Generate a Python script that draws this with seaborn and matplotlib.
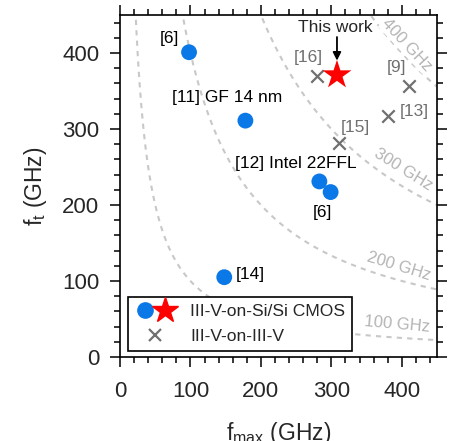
import matplotlib
matplotlib.use("Agg")
import matplotlib.pyplot as plt
import seaborn as sns
import numpy as np
import pandas as pd
from matplotlib.ticker import MultipleLocator
from matplotlib.legend_handler import HandlerTuple
from matplotlib.lines import Line2D

# ---- data ----
si_fmax = [98, 178, 283, 299, 148]
si_ft = [401, 311, 231, 217, 105]
si_labels = ["[6]", "[11] GF 14 nm", "[12] Intel 22FFL", "[6]", "[14]"]

this_fmax = [308]
this_ft = [371]

iii_fmax = [280, 410, 381, 311]
iii_ft = [370, 357, 317, 281]
iii_labels = ["[16]", "[9]", "[13]", "[15]"]

contour_levels = [100, 200, 300, 400]   # sqrt(ft*fmax) in GHz
contour_labels = ["100 GHz", "200 GHz", "300 GHz", "400 GHz"]

x_ticks = [0, 100, 200, 300, 400]
y_ticks = [0, 100, 200, 300, 400]

# ---- style ----
sns.set_theme(style="ticks")
plt.rcParams["font.family"] = ["Liberation Sans", "DejaVu Sans"]
plt.rcParams["mathtext.default"] = "regular"

BLUE = "#0a78e6"
GRAY = "#707070"
LGRAY = "#b4b4b4"

fig = plt.figure(figsize=(4.53, 4.41), dpi=100)
ax = fig.add_axes([0.2649, 0.1905, 0.6998, 0.7755])

# contour curves
for lvl in contour_levels:
    fm = np.linspace(5, 460, 400)
    ax.plot(fm, lvl**2 / fm, ls=(0, (2.5, 2.5)), color="#c8c8c8", lw=1.5, zorder=1)

label_pos = {"400 GHz": (407, 410, -47), "300 GHz": (402, 246, -32),
             "200 GHz": (395, 119, -17), "100 GHz": (393, 43, -5)}
for lab in contour_labels:
    x, y, r = label_pos[lab]
    ax.text(x, y, lab, color=LGRAY, fontsize=12, rotation=r, ha="center", va="center",
            rotation_mode="anchor", zorder=2,
            bbox=dict(facecolor="white", edgecolor="none", pad=0.5))

df_si = pd.DataFrame({"fmax": si_fmax, "ft": si_ft})
df_this = pd.DataFrame({"fmax": this_fmax, "ft": this_ft})
df_iii = pd.DataFrame({"fmax": iii_fmax, "ft": iii_ft})

sns.scatterplot(data=df_si, x="fmax", y="ft", ax=ax, color=BLUE, s=130,
                edgecolor="none", zorder=4, legend=False)
sns.scatterplot(data=df_this, x="fmax", y="ft", ax=ax, color="red", marker="*", s=480,
                edgecolor="none", zorder=5, legend=False)
sns.scatterplot(data=df_iii, x="fmax", y="ft", ax=ax, color=GRAY, marker="x", s=80,
                linewidth=1.6, zorder=4, legend=False)

# annotations
si_text_pos = [(69.6, 419.7), (151.9, 340.8), (249.9, 254), (287.5, 189.5), (184.6, 107.9)]
for lab, (x, y) in zip(si_labels, si_text_pos):
    ax.text(x, y, lab, fontsize=12.5, color="black", ha="center", va="center", zorder=6)

iii_text_pos = [(266.9, 394.7), (393.2, 380.3), (417.4, 322.4), (333.6, 302.6)]
for lab, (x, y) in zip(iii_labels, iii_text_pos):
    ax.text(x, y, lab, fontsize=12.5, color=GRAY, ha="center", va="center", zorder=6)

ax.text(305.9, 432.9, "This work", fontsize=12.5, ha="center", va="center", zorder=6)
ax.annotate("", xy=(308, 390), xytext=(308, 421),
            arrowprops=dict(arrowstyle="-|>", color="black", lw=1.3,
                            mutation_scale=12, shrinkA=0, shrinkB=0), zorder=6)

# axes
ax.set_xlim(0, 450)
ax.set_ylim(0, 450)
ax.set_xticks(x_ticks)
ax.set_yticks(y_ticks)
ax.xaxis.set_minor_locator(MultipleLocator(20))
ax.yaxis.set_minor_locator(MultipleLocator(20))
ax.tick_params(which="both", direction="out", top=True, right=True,
               color="black", width=1.1)
ax.tick_params(which="major", length=7, labelsize=16)
ax.tick_params(which="minor", length=4)
ax.tick_params(axis="x", which="major", pad=10)
ax.tick_params(axis="y", which="major", pad=8)
for sp in ax.spines.values():
    sp.set_visible(True)
    sp.set_linewidth(1.2)
    sp.set_color("black")

ax.set_xlabel("$f_{max}$ (GHz)", fontsize=16.5, labelpad=13)
ax.set_ylabel("$f_{t}$ (GHz)", fontsize=16.5, labelpad=9)

# legend
h_dot = Line2D([], [], marker="o", color=BLUE, ls="none", markersize=11)
h_star = Line2D([], [], marker="*", color="red", ls="none", markersize=19)
h_x = Line2D([], [], marker="x", color=GRAY, ls="none", markersize=9, mew=1.6)
leg = ax.legend([(h_dot, h_star), h_x], ["III-V-on-Si/Si CMOS", "III-V-on-III-V"],
                handler_map={tuple: HandlerTuple(ndivide=None, pad=0.0)},
                loc="lower left", bbox_to_anchor=(0.025, 0.0175), fontsize=12.6,
                frameon=True, fancybox=False, edgecolor="black", framealpha=1,
                handlelength=2.3, handletextpad=0.85, borderpad=0.4,
                labelspacing=0.55, borderaxespad=0)
leg.get_frame().set_linewidth(1.2)
leg.set_zorder(7)

fig.savefig("out.png", dpi=100)
